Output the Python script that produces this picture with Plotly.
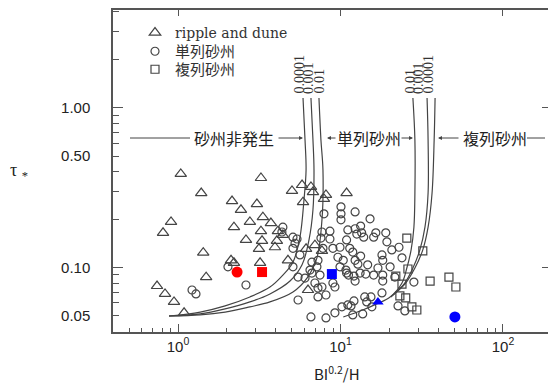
import plotly.graph_objects as go

# ---------------- data ----------------
tri_x = [1.04, 3.24, 1.39, 2.15, 3.06, 2.44, 0.906, 2.77, 3.33, 3.73, 0.809, 2.21, 3.24, 4.12,
         2.62, 3.29, 4.06, 3.15, 3.95, 1.43, 2.12, 2.21, 3.20, 1.49, 0.743, 0.832, 0.945, 1.09,
         5.03, 5.80, 6.58, 6.77, 5.88, 8.14, 7.91, 10.9, 4.42, 4.75, 6.14, 6.96, 7.69, 6.31]
tri_y = [0.386, 0.364, 0.293, 0.261, 0.250, 0.230, 0.193, 0.193, 0.207, 0.190, 0.165, 0.179, 0.169, 0.169,
         0.149, 0.147, 0.147, 0.131, 0.134, 0.124, 0.111, 0.107, 0.107, 0.0871, 0.0766, 0.0683, 0.0609, 0.0520,
         0.302, 0.329, 0.320, 0.297, 0.257, 0.285, 0.269, 0.293, 0.160, 0.111, 0.131, 0.138, 0.127, 0.0723]

cir_x = [2.03, 2.62, 1.22, 1.29, 4.42, 4.36, 5.10, 5.40, 5.25, 5.10, 5.63, 5.10, 5.48, 6.05, 5.48,
         6.67, 6.49, 7.27, 7.16, 7.48, 6.96, 7.27, 7.69, 8.14, 7.27, 7.91, 7.69, 8.61, 7.58, 8.61,
         7.80, 8.98, 10.07, 10.07, 10.07, 11.1, 10.9, 9.64, 10.4, 10.8, 8.98, 9.24, 10.9, 10.2, 11.1,
         6.58, 8.14, 9.24, 12.3, 15.2, 12.3, 13.3, 13.5, 12.6, 13.9, 16.5, 19.0, 16.0, 19.3, 11.4,
         9.93, 11.9, 13.3, 18.0, 18.2, 20.7, 22.9, 23.9, 12.3, 12.8, 14.7, 17.0, 20.2, 6.67, 9.93,
         11.2, 12.1, 13.2, 14.3, 12.3, 16.0, 18.2, 18.2, 21.6, 18.0, 14.1, 15.4, 14.5, 15.6, 12.1,
         11.6, 13.7, 11.9, 22.6, 24.9, 28.3]
cir_y = [0.101, 0.0777, 0.0723, 0.0683, 0.179, 0.167, 0.155, 0.151, 0.142, 0.132, 0.120, 0.101, 0.0871, 0.0859, 0.0626,
         0.108, 0.0964, 0.111, 0.101, 0.0897, 0.0800, 0.0744, 0.0755, 0.0673, 0.0654, 0.217, 0.167, 0.169, 0.153, 0.151,
         0.132, 0.132, 0.240, 0.217, 0.199, 0.172, 0.149, 0.116, 0.111, 0.0964, 0.0800, 0.0755, 0.0923, 0.0567, 0.0583,
         0.0490, 0.0483, 0.0520, 0.223, 0.202, 0.175, 0.182, 0.165, 0.162, 0.155, 0.165, 0.165, 0.155, 0.145, 0.132,
         0.134, 0.125, 0.118, 0.120, 0.111, 0.129, 0.134, 0.115, 0.111, 0.105, 0.104, 0.0993, 0.101, 0.0923, 0.101,
         0.0897, 0.0884, 0.0923, 0.0910, 0.0823, 0.0897, 0.0897, 0.0823, 0.0871, 0.0693, 0.0654, 0.0654, 0.0609, 0.0567, 0.0618,
         0.0575, 0.0512, 0.0505, 0.0575, 0.0535, 0.0811]

sq_x = [25.6, 32.1, 26.0, 21.9, 23.9, 35.6, 46.5, 51.3, 23.2, 25.2, 27.5, 29.5]
sq_y = [0.153, 0.127, 0.0979, 0.0884, 0.0788, 0.0823, 0.0871, 0.0755, 0.0664, 0.0645, 0.0567, 0.0542]

# highlighted points
red_circle_x, red_circle_y = [2.31], [0.0937]
red_square_x, red_square_y = [3.29], [0.0937]
blue_square_x, blue_square_y = [8.85], [0.0910]
blue_tri_x, blue_tri_y = [17.0], [0.0609]
blue_circle_x, blue_circle_y = [50.6], [0.0490]

# boundary curves (left family: 0.0001, 0.001, 0.01)
L1_x = [5.88, 6.05, 6.14, 5.96, 5.63, 5.10, 4.42, 3.68, 2.77, 1.95, 1.37, 0.880]
L1_y = [1.155, 0.630, 0.409, 0.265, 0.155, 0.108, 0.0897, 0.0755, 0.0654, 0.0575, 0.0526, 0.0497]
L2_x = [6.58, 6.77, 6.87, 6.77, 6.40, 5.80, 4.89, 3.68, 2.77, 1.95, 1.37, 0.880]
L2_y = [1.155, 0.630, 0.409, 0.230, 0.149, 0.104, 0.0823, 0.0683, 0.0609, 0.0551, 0.0512, 0.0497]
L3_x = [7.37, 7.58, 7.80, 7.69, 7.16, 6.22, 5.10, 3.68, 2.77, 1.95, 1.37, 0.880]
L3_y = [1.155, 0.630, 0.409, 0.199, 0.115, 0.0859, 0.0703, 0.0609, 0.0567, 0.0526, 0.0505, 0.0497]
# right family: 0.01, 0.001, 0.0001
R1_x = [27.9, 28.7, 28.7, 28.3, 27.2, 25.6, 23.9, 20.2, 16.7, 13.7, 10.4]
R1_y = [1.155, 0.630, 0.293, 0.179, 0.129, 0.0993, 0.0800, 0.0654, 0.0592, 0.0542, 0.0490]
R2_x = [34.1, 34.6, 34.6, 33.1, 30.8, 27.9, 24.6, 20.4]
R2_y = [1.155, 0.630, 0.293, 0.179, 0.129, 0.0993, 0.0788, 0.0654]
R3_x = [38.2, 37.7, 36.6, 34.6, 32.1, 28.7, 25.2, 20.7]
R3_y = [1.155, 0.630, 0.293, 0.179, 0.129, 0.0993, 0.0800, 0.0664]

x_tick_vals = [1, 10, 100]
x_tick_text = ["10<sup>0</sup>", "10<sup>1</sup>", "10<sup>2</sup>"]
y_tick_vals = [0.05, 0.1, 0.5, 1.0]
y_tick_text = ["0.05", "0.10", "0.50", "1.00"]

XR = [-0.400, 2.277]
YR = [-1.404, 0.614]
AX = "#555"
MK = "#444"

fig = go.Figure()

for xs, ys in [(L1_x, L1_y), (L2_x, L2_y), (L3_x, L3_y), (R1_x, R1_y), (R2_x, R2_y), (R3_x, R3_y)]:
    fig.add_trace(go.Scatter(x=xs, y=ys, mode="lines", line=dict(color=MK, width=1.2, shape="spline"),
                             showlegend=False, hoverinfo="skip"))

fig.add_trace(go.Scatter(x=tri_x, y=tri_y, mode="markers", name="ripple and dune", legend="legend",
                         marker=dict(symbol="triangle-up-open", size=10, color=MK, line=dict(width=1.2))))
fig.add_trace(go.Scatter(x=cir_x, y=cir_y, mode="markers", name="単列砂州", legend="legend2",
                         marker=dict(symbol="circle-open", size=8, color=MK, line=dict(width=1.2))))
fig.add_trace(go.Scatter(x=sq_x, y=sq_y, mode="markers", name="複列砂州", legend="legend3",
                         marker=dict(symbol="square-open", size=8, color=MK, line=dict(width=1.2))))

for xs, ys, sym, col, sz in [(red_circle_x, red_circle_y, "circle", "#ff0000", 11),
                             (red_square_x, red_square_y, "square", "#ff0000", 10),
                             (blue_square_x, blue_square_y, "square", "#0000ff", 10),
                             (blue_tri_x, blue_tri_y, "triangle-up", "#0000ff", 10),
                             (blue_circle_x, blue_circle_y, "circle", "#0000ff", 11)]:
    fig.add_trace(go.Scatter(x=xs, y=ys, mode="markers", showlegend=False,
                             marker=dict(symbol=sym, size=sz, color=col)))

# empty traces to realise the extra tick axes
fig.add_trace(go.Scatter(x=[], y=[], xaxis="x2", yaxis="y", showlegend=False))
fig.add_trace(go.Scatter(x=[], y=[], xaxis="x", yaxis="y2", showlegend=False))
fig.add_trace(go.Scatter(x=[], y=[], xaxis="x", yaxis="y3", showlegend=False))

def px2x(p):
    return (p - 113) / 435.0

def px2y(p):
    return (332 - p) / 322.0

ann = []
# curve labels
lab_font = dict(family="Liberation Serif", size=14, color="#333")
for txt, p in [("0.0001", 299), ("0.001", 309), ("0.01", 319), ("0.01", 410), ("0.001", 419), ("0.0001", 428)]:
    ann.append(dict(x=px2x(p), y=px2y(96), xref="paper", yref="paper", text=txt, textangle=-90,
                    showarrow=False, xanchor="center", yanchor="bottom", font=lab_font))
# regime labels
reg_font = dict(family="Noto Sans CJK JP", size=16, color="#222")
ya = px2y(138)
for txt, p in [("砂州非発生", 234), ("単列砂州", 368.5), ("複列砂州", 494.5)]:
    ann.append(dict(x=px2x(p), y=ya, xref="paper", yref="paper", text=txt, showarrow=False,
                    xanchor="center", yanchor="middle", font=reg_font))
for head, off in [(303, -26), (327, 10), (413, -13), (438, 22)]:
    ann.append(dict(x=px2x(head), y=ya, xref="paper", yref="paper", text="", showarrow=True,
                    ax=off, ay=0, axref="pixel", ayref="pixel", arrowhead=2, arrowsize=0.8,
                    arrowwidth=1, arrowcolor=MK, standoff=0, startstandoff=0))
# axis titles
ann.append(dict(x=px2x(19), y=px2y(172), xref="paper", yref="paper", text="τ <sub>*</sub>",
                showarrow=False, xanchor="center", yanchor="middle",
                font=dict(family="Liberation Serif", size=18, color="#222")))
ann.append(dict(x=px2x(337), y=px2y(373), xref="paper", yref="paper", text="BI<sup>0.2</sup>/H",
                showarrow=False, xanchor="center", yanchor="middle",
                font=dict(family="Noto Sans CJK JP", size=15, color="#222")))

shapes = [
    dict(type="line", xref="paper", yref="paper", x0=px2x(130), x1=px2x(190), y0=ya, y1=ya,
         line=dict(color=MK, width=1)),
    dict(type="line", xref="paper", yref="paper", x0=px2x(527), x1=px2x(545), y0=ya, y1=ya,
         line=dict(color=MK, width=1)),
]

def leg(ypx, fam, size):
    return dict(x=px2x(135), y=px2y(ypx), xanchor="left", yanchor="middle", bgcolor="rgba(0,0,0,0)",
                font=dict(family=fam, size=size, color="#333"))

fig.update_layout(
    width=548, height=385,
    margin=dict(l=113, r=0, t=10, b=53),
    plot_bgcolor="white", paper_bgcolor="white",
    showlegend=True,
    legend=leg(33, "DejaVu Serif", 14),
    legend2=leg(51.5, "Noto Sans CJK JP", 15),
    legend3=leg(69.5, "Noto Sans CJK JP", 15),
    xaxis=dict(type="log", range=XR, showgrid=False, zeroline=False, showline=True, linecolor=AX,
               linewidth=1.5, ticks="inside", ticklen=8, tickcolor=AX, tickwidth=1,
               tickvals=x_tick_vals, ticktext=x_tick_text, ticklabelstandoff=0,
               tickfont=dict(family="Liberation Sans", size=15, color="#222"),
               minor=dict(ticks="inside", ticklen=4, tickcolor=AX, tickwidth=1,
                          tickvals=[0.5, 0.6, 0.7, 0.8, 0.9, 2, 3, 4, 5, 6, 7, 8, 9,
                                    20, 30, 40, 50, 60, 70, 80, 90, 200])),
    xaxis2=dict(type="log", range=XR, overlaying="x", side="top", anchor="y", showgrid=False,
                zeroline=False, showline=True, linecolor=AX, linewidth=1.5, ticks="inside",
                ticklen=6, tickcolor=AX, tickvals=x_tick_vals, showticklabels=False),
    yaxis=dict(type="log", range=YR, showgrid=False, zeroline=False, showline=True, linecolor=AX,
               linewidth=1.5, ticks="inside", ticklen=6, tickcolor=AX, tickwidth=1,
               tickvals=y_tick_vals, ticktext=y_tick_text, ticklabelstandoff=18,
               tickfont=dict(family="Liberation Sans", size=15, color="#222"),
               minor=dict(ticks="inside", ticklen=6, tickcolor=AX, tickwidth=1,
                          tickvals=[0.06, 0.07, 0.08, 0.09, 0.2, 0.3, 0.4, 0.6, 0.7, 0.8, 0.9, 2, 3, 4])),
    yaxis2=dict(type="log", range=YR, overlaying="y", side="right", anchor="x", showgrid=False,
                zeroline=False, showline=False, ticks="inside", ticklen=6, tickcolor=AX,
                tickvals=[0.1, 1.0], showticklabels=False),
    yaxis3=dict(type="log", range=YR, overlaying="y", side="left", anchor="x", showgrid=False,
                zeroline=False, showline=False, ticks="inside", ticklen=10, tickcolor=AX,
                tickvals=[0.1, 1.0], showticklabels=False),
    annotations=ann,
    shapes=shapes,
)

fig.write_html("out.html")
